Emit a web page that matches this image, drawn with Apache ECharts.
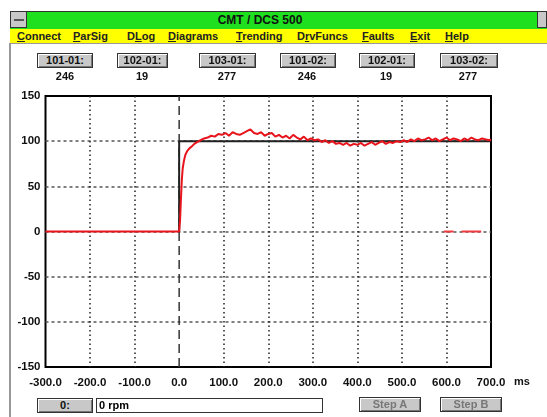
<!DOCTYPE html>
<html><head><meta charset="utf-8">
<script src="https://cdn.jsdelivr.net/npm/echarts@6/dist/echarts.min.js"></script>
<style>
body{margin:0;width:547px;height:417px;background:#fff;overflow:hidden;font-family:"Liberation Sans",Arial,sans-serif;}
#chart{position:absolute;left:0;top:0;width:547px;height:417px;}
.abs{position:absolute;}
.btn{position:absolute;background:#c8c8c8;border:1px solid #333;box-shadow:inset 1px 1px 0 #fff,inset -1px -1px 0 #777;font-weight:bold;font-size:11px;text-align:center;line-height:13px;color:#111;}
.val{position:absolute;font-weight:bold;font-size:11px;text-align:center;width:50px;color:#111;}
.menu span{position:absolute;top:1px;font-weight:bold;font-size:11px;color:#222;}
.menu u{text-decoration:underline;}
</style></head><body>
<div id="chart"></div>
<div class="abs" style="left:10px;top:11px;width:537px;height:17px;background:#1fe01f;border-top:1px solid #333;border-bottom:1px solid #333;"></div>
<div class="abs" style="left:10px;top:11px;width:17px;height:17px;background:#c8c8c8;border:1px solid #333;box-sizing:border-box;"><div class="abs" style="left:3px;top:7px;width:10px;height:2px;background:#555;"></div></div>
<div class="abs" style="left:537px;top:11px;width:10px;height:17px;background:#c8c8c8;border:1px solid #333;box-sizing:border-box;"></div>
<div class="abs" style="left:160px;top:13px;width:200px;text-align:center;font-weight:bold;font-size:12px;color:#111;">CMT / DCS 500</div>
<div class="abs menu" style="left:10px;top:29px;width:537px;height:14px;background:#ffff00;border-bottom:1px solid #999;">
<span style="left:7px"><u>C</u>onnect</span>
<span style="left:63px"><u>P</u>arSig</span>
<span style="left:117px">D<u>L</u>og</span>
<span style="left:158px"><u>D</u>iagrams</span>
<span style="left:226px"><u>T</u>rending</span>
<span style="left:287px">D<u>r</u>vFuncs</span>
<span style="left:352px"><u>F</u>aults</span>
<span style="left:400px"><u>E</u>xit</span>
<span style="left:435px"><u>H</u>elp</span>
</div>
<div class="abs" style="left:9px;top:43px;width:2px;height:374px;background:#999;"></div>
<div class="btn" style="left:37px;top:53px;width:54px;height:13px;">101-01:</div>
<div class="btn" style="left:117px;top:53px;width:49px;height:13px;">102-01:</div>
<div class="btn" style="left:199px;top:53px;width:55px;height:13px;">103-01:</div>
<div class="btn" style="left:280px;top:53px;width:54px;height:13px;">101-02:</div>
<div class="btn" style="left:359px;top:53px;width:54px;height:13px;">102-01:</div>
<div class="btn" style="left:440px;top:53px;width:56px;height:13px;">103-02:</div>
<div class="val" style="left:40px;top:70px;">246</div>
<div class="val" style="left:117px;top:70px;">19</div>
<div class="val" style="left:202px;top:70px;">277</div>
<div class="val" style="left:282px;top:70px;">246</div>
<div class="val" style="left:361px;top:70px;">19</div>
<div class="val" style="left:443px;top:70px;">277</div>
<div class="btn" style="left:37px;top:398px;width:54px;height:13px;">0:</div>
<div class="abs" style="left:96px;top:398px;width:223px;height:13px;border:1px solid #333;font-weight:bold;font-size:11px;line-height:13px;padding-left:2px;">0 rpm</div>
<div class="btn" style="left:359px;top:397px;width:60px;height:13px;color:#777;">Step A</div>
<div class="btn" style="left:440px;top:397px;width:60px;height:13px;color:#777;">Step B</div>
<div class="abs" style="left:514px;top:375px;font-weight:bold;font-size:11px;color:#111;">ms</div>
<script>
const xTicks = [-300, -200, -100, 0, 100, 200, 300, 400, 500, 600, 700];
const yTicks = [-150, -100, -50, 0, 50, 100, 150];
const refTime = [0, 0, 700];
const refValue = [0, 100, 100];
const actTime = [-300, 0, 2, 4, 6, 8, 11, 14, 18, 23, 28, 34, 40, 48, 56, 64, 72, 80, 88, 96, 104, 112, 120, 128, 136, 144, 152, 160, 168, 176, 184, 192, 200, 208, 216, 224, 232, 240, 248, 256, 264, 272, 280, 288, 296, 304, 312, 320, 328, 336, 344, 352, 360, 368, 376, 384, 392, 400, 408, 416, 424, 432, 440, 448, 456, 464, 472, 480, 488, 496, 504, 512, 520, 528, 536, 544, 552, 560, 568, 576, 584, 592, 600, 608, 616, 624, 632, 640, 648, 656, 664, 672, 680, 688, 696, 700];
const actValue = [0, 0, 12, 36, 57, 70, 79, 85, 89, 92, 94, 97, 99, 101, 103, 104, 106, 105, 108, 107, 109, 106, 110, 108, 107, 109, 111, 113, 109, 108, 110, 106, 108, 109, 105, 107, 104, 106, 103, 107, 104, 102, 105, 101, 103, 101, 102, 99, 101, 98, 100, 97, 98, 96, 98, 95, 97, 96, 98, 95, 97, 99, 96, 98, 100, 97, 99, 98, 100, 99, 101, 99, 102, 100, 103, 101, 102, 104, 101, 103, 100, 102, 104, 101, 103, 102, 100, 103, 101, 104, 102, 101, 103, 102, 101, 102];
const markerSeg1Time = [594, 616];
const markerSeg2Time = [634, 678];
const markerValue = [0, 0];

const chart = echarts.init(document.getElementById('chart'), null, {renderer: 'canvas'});
const pair = (t, v) => t.map((x, i) => [x, v[i]]);
const vColors = xTicks.slice(1, -1).map(t => t === 0 ? 'rgba(0,0,0,0)' : '#222');
chart.setOption({
  animation: false,
  grid: {left: 45.5, right: 56, top: 96, bottom: 50, show: true, borderColor: '#000', borderWidth: 2, backgroundColor: '#fff'},
  xAxis: {
    type: 'value', min: xTicks[0], max: xTicks[xTicks.length - 1], interval: 100,
    axisLine: {show: false}, axisTick: {show: false},
    axisLabel: {color: '#111', fontWeight: 'bold', fontSize: 11.5, fontFamily: 'Liberation Sans', margin: 10,
      formatter: v => v.toFixed(1)},
    splitLine: {show: true, showMinLine: false, showMaxLine: false, lineStyle: {color: vColors, width: 1.5, type: [1.5, 3]}}
  },
  yAxis: {
    type: 'value', min: yTicks[0], max: yTicks[yTicks.length - 1], interval: 50,
    axisLine: {show: false}, axisTick: {show: false},
    axisLabel: {color: '#111', fontWeight: 'bold', fontSize: 11.5, fontFamily: 'Liberation Sans', margin: 5},
    splitLine: {show: true, showMinLine: false, showMaxLine: false, lineStyle: {color: '#555', width: 1.5, type: [3, 3]}}
  },
  series: [
    {type: 'line', data: [[0, -150], [0, 150]], symbol: 'none', silent: true,
      lineStyle: {color: '#333', width: 1.5, type: [9, 5]}, z: 1},
    {type: 'line', data: pair(refTime, refValue), symbol: 'none',
      lineStyle: {color: '#222', width: 2}, z: 2},
    {type: 'line', data: pair(actTime, actValue), symbol: 'none',
      lineStyle: {color: '#e8141c', width: 2}, z: 3},
    {type: 'line', data: pair(markerSeg1Time, markerValue), symbol: 'none',
      lineStyle: {color: '#f03a40', width: 2}, z: 4},
    {type: 'line', data: pair(markerSeg2Time, markerValue), symbol: 'none',
      lineStyle: {color: '#f03a40', width: 2}, z: 4}
  ]
});
</script>
</body></html>
